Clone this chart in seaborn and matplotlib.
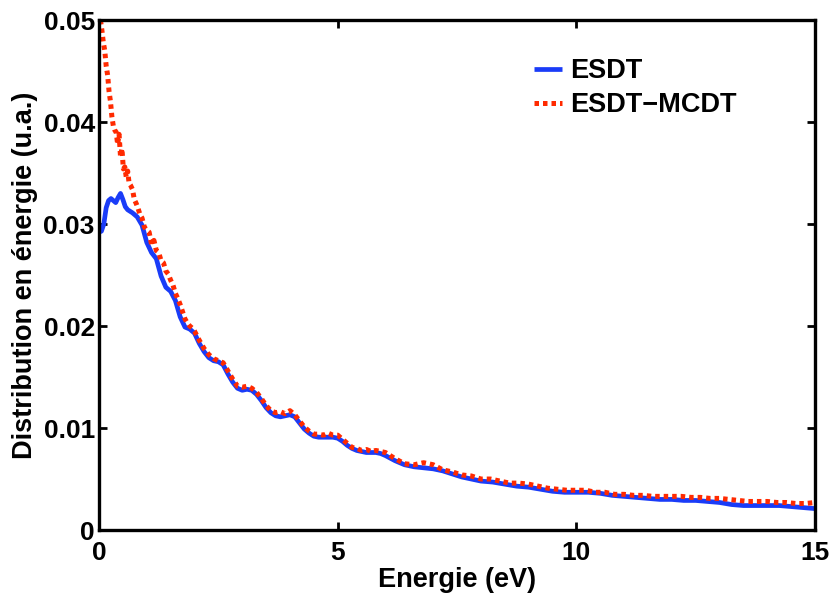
import numpy as np
import pandas as pd
import matplotlib
matplotlib.use("Agg")
import matplotlib.pyplot as plt
import seaborn as sns

# ESDT energy distribution (smooth)
esdt_e = [0.0, 0.05, 0.1, 0.15, 0.2, 0.25, 0.3, 0.35, 0.4, 0.45, 0.5, 0.55, 0.6,
          0.7, 0.8, 0.9, 1.0, 1.1, 1.2, 1.3, 1.4, 1.5, 1.6, 1.7, 1.8, 1.9, 2.0,
          2.1, 2.2, 2.3, 2.4, 2.5, 2.6, 2.7, 2.8, 2.9, 3.0, 3.1, 3.2, 3.3, 3.4,
          3.5, 3.6, 3.7, 3.8, 3.9, 4.0, 4.1, 4.2, 4.3, 4.4, 4.5, 4.6, 4.7, 4.8,
          4.9, 5.0, 5.1, 5.2, 5.3, 5.4, 5.5, 5.6, 5.7, 5.8, 5.9, 6.0, 6.2, 6.4,
          6.6, 6.8, 7.0, 7.2, 7.4, 7.6, 7.8, 8.0, 8.25, 8.5, 8.75, 9.0, 9.25,
          9.5, 9.75, 10.0, 10.25, 10.5, 10.75, 11.0, 11.25, 11.5, 11.75, 12.0,
          12.25, 12.5, 12.75, 13.0, 13.25, 13.5, 13.75, 14.0, 14.25, 14.5,
          14.75, 15.0]
esdt_d = [0.0292, 0.0293, 0.0300, 0.0316, 0.0323, 0.0325, 0.0323, 0.0321, 0.0326,
          0.0330, 0.0324, 0.0317, 0.0314, 0.0311, 0.0307, 0.0299, 0.0282, 0.0272,
          0.0266, 0.0249, 0.0238, 0.0234, 0.0225, 0.0209, 0.0199, 0.0197, 0.0193,
          0.0183, 0.0175, 0.0169, 0.0166, 0.0165, 0.0162, 0.0153, 0.0145, 0.0139,
          0.0137, 0.0138, 0.0137, 0.0133, 0.0127, 0.0120, 0.0115, 0.0112, 0.0111,
          0.0112, 0.0113, 0.0111, 0.0105, 0.0099, 0.0095, 0.0092, 0.0091, 0.0091,
          0.0091, 0.0091, 0.0090, 0.0087, 0.0083, 0.0080, 0.0078, 0.0077, 0.0076,
          0.0076, 0.0076, 0.0075, 0.0073, 0.0068, 0.0064, 0.0062, 0.0061, 0.0060,
          0.0058, 0.0055, 0.0052, 0.0050, 0.0048, 0.0047, 0.0045, 0.0043, 0.0042,
          0.0040, 0.0038, 0.0037, 0.0037, 0.0037, 0.0036, 0.0034, 0.0033, 0.0032,
          0.0031, 0.0030, 0.0030, 0.0029, 0.0029, 0.0028, 0.0027, 0.0025, 0.0024,
          0.0024, 0.0024, 0.0024, 0.0023, 0.0022, 0.0021]

# ESDT-MCDT energy distribution (Monte Carlo, noisy)
mcdt_e = [0.03, 0.06, 0.09, 0.12, 0.15, 0.18, 0.21, 0.24, 0.27, 0.30, 0.33, 0.36,
          0.39, 0.42, 0.45, 0.48, 0.51, 0.54, 0.57, 0.60, 0.63, 0.66, 0.70, 0.74,
          0.78, 0.82, 0.86, 0.90, 0.95, 1.00, 1.05, 1.10, 1.15, 1.20, 1.25, 1.30,
          1.35, 1.40, 1.45, 1.50, 1.55, 1.60, 1.65, 1.70, 1.75, 1.80, 1.85, 1.90,
          1.95, 2.00, 2.1, 2.2, 2.3, 2.4, 2.5, 2.6, 2.7, 2.8, 2.9, 3.0, 3.1, 3.2,
          3.3, 3.4, 3.5, 3.6, 3.7, 3.8, 3.9, 4.0, 4.1, 4.2, 4.3, 4.4, 4.5, 4.6,
          4.7, 4.8, 4.9, 5.0, 5.1, 5.2, 5.3, 5.4, 5.5, 5.6, 5.7, 5.8, 5.9, 6.0,
          6.2, 6.4, 6.6, 6.8, 7.0, 7.2, 7.4, 7.6, 7.8, 8.0, 8.2, 8.4, 8.6, 8.8,
          9.0, 9.2, 9.4, 9.6, 9.8, 10.0, 10.2, 10.4, 10.6, 10.8, 11.0, 11.2,
          11.4, 11.6, 11.8, 12.0, 12.2, 12.4, 12.6, 12.8, 13.0, 13.2, 13.4, 13.6,
          13.8, 14.0, 14.2, 14.4, 14.6, 14.8, 15.0]
mcdt_d = [0.0500, 0.0490, 0.0478, 0.0470, 0.0455, 0.0446, 0.0430, 0.0420, 0.0405,
          0.0396, 0.0392, 0.0390, 0.0378, 0.0388, 0.0366, 0.0374, 0.0354, 0.0356,
          0.0346, 0.0352, 0.0340, 0.0338, 0.0334, 0.0324, 0.0320, 0.0315, 0.0309,
          0.0306, 0.0297, 0.0294, 0.0292, 0.0280, 0.0284, 0.0274, 0.0272, 0.0264,
          0.0262, 0.0254, 0.0251, 0.0245, 0.0240, 0.0232, 0.0227, 0.0221, 0.0214,
          0.0207, 0.0203, 0.0200, 0.0198, 0.0195, 0.0186, 0.0178, 0.0172, 0.0168,
          0.0166, 0.0164, 0.0156, 0.0148, 0.0141, 0.0140, 0.0141, 0.0139, 0.0135,
          0.0129, 0.0122, 0.0117, 0.0115, 0.0116, 0.0114, 0.0117, 0.0113, 0.0107,
          0.0101, 0.0097, 0.0094, 0.0094, 0.0093, 0.0095, 0.0093, 0.0093, 0.0089,
          0.0085, 0.0081, 0.0080, 0.0078, 0.0079, 0.0077, 0.0078, 0.0077, 0.0076,
          0.0070, 0.0065, 0.0064, 0.0066, 0.0064, 0.0059, 0.0057, 0.0054, 0.0053,
          0.0050, 0.0050, 0.0048, 0.0046, 0.0046, 0.0045, 0.0043, 0.0041, 0.0040,
          0.0039, 0.0039, 0.0039, 0.0037, 0.0037, 0.0035, 0.0035, 0.0034, 0.0034,
          0.0033, 0.0033, 0.0033, 0.0033, 0.0032, 0.0032, 0.0031, 0.0031, 0.0030,
          0.0029, 0.0028, 0.0028, 0.0028, 0.0027, 0.0027, 0.0026, 0.0026, 0.0027]

x_ticks = [0, 5, 10, 15]
y_ticks = [0, 0.01, 0.02, 0.03, 0.04, 0.05]
y_tick_labels = ["0", "0.01", "0.02", "0.03", "0.04", "0.05"]

sns.set_style("ticks")
plt.rcParams["font.family"] = ["Liberation Sans", "DejaVu Sans"]
plt.rcParams["font.weight"] = "bold"
plt.rcParams["text.color"] = "black"
plt.rcParams["axes.labelcolor"] = "black"
plt.rcParams["xtick.color"] = "black"
plt.rcParams["ytick.color"] = "black"

fig = plt.figure(figsize=(8.35, 5.95), dpi=100)
ax = fig.add_axes([0.1186, 0.1092, 0.8575, 0.8571])

esdt = pd.DataFrame({"E": esdt_e, "D": esdt_d})
mcdt = pd.DataFrame({"E": mcdt_e, "D": mcdt_d})

dot_style = (0, (0.9, 0.8))

sns.lineplot(data=esdt, x="E", y="D", ax=ax, color="#1a3cf8", lw=3.4,
             label="ESDT", solid_capstyle="butt")
sns.lineplot(data=mcdt, x="E", y="D", ax=ax, color="#ff2a00", lw=3.6,
             label="ESDT\u2212MCDT")
ax.lines[1].set_linestyle(dot_style)
ax.lines[1].set_dash_capstyle("butt")

ax.set_xlim(0, 15)
ax.set_ylim(0, 0.05)
ax.set_xticks(x_ticks)
ax.set_xticklabels([str(t) for t in x_ticks])
ax.set_yticks(y_ticks)
ax.set_yticklabels(y_tick_labels)
ax.tick_params(direction="in", length=6, width=2, labelsize=19,
               top=True, right=True, colors="black")
ax.tick_params(axis="y", pad=3)
ax.tick_params(axis="x", pad=8)
for lab in ax.get_xticklabels() + ax.get_yticklabels():
    lab.set_fontweight("bold")
for s in ax.spines.values():
    s.set_linewidth(2.4)
    s.set_color("black")

ax.set_xlabel("Energie (eV)", fontsize=19.5, fontweight="bold", labelpad=1)
ax.set_ylabel("Distribution en énergie (u.a.)", fontsize=19.5,
              fontweight="bold", labelpad=4)

leg = ax.legend(loc="upper left", bbox_to_anchor=(0.607, 0.925), frameon=False,
                fontsize=19.5, handlelength=1.05, handletextpad=0.28,
                borderpad=0, borderaxespad=0, labelspacing=0.3)
for t in leg.get_texts():
    t.set_fontweight("bold")
    t.set_color("black")
leg.get_lines()[1].set_linestyle(dot_style)

fig.savefig("out.png", dpi=100)
